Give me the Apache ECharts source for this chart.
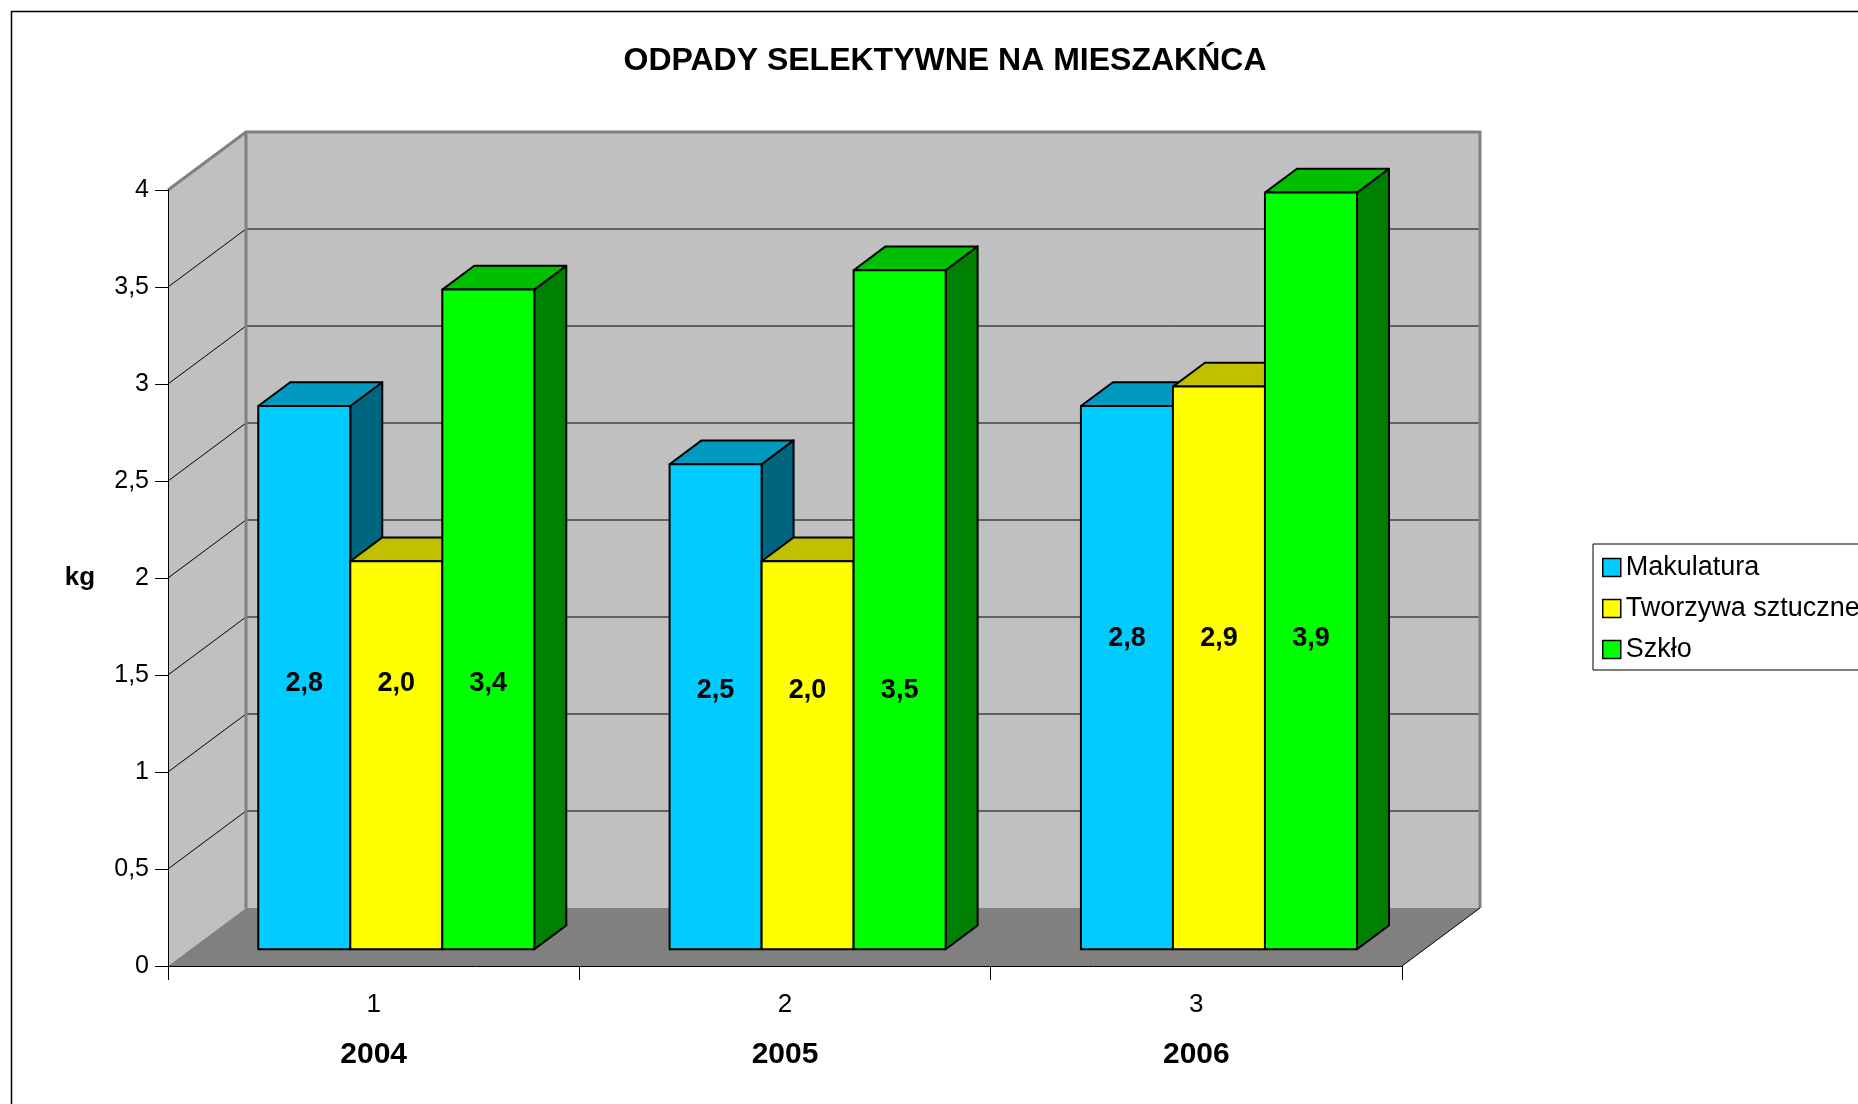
<!DOCTYPE html>
<html>
<head>
<meta charset="utf-8">
<script src="https://cdn.jsdelivr.net/npm/echarts@6/dist/echarts.min.js"></script>
<style>
html, body { margin: 0; padding: 0; background: #fff; }
#my_chart { width: 1858px; height: 1104px; }
</style>
</head>
<body>
<div id="my_chart"></div>
<script>
// kategorie (os X) i lata pod nimi
var categories = ['1', '2', '3'];
var years = ['2004', '2005', '2006'];

// serie
var seriesNames = ['Makulatura', 'Tworzywa sztuczne', 'Szkło'];
var makulatura = [2.8, 2.5, 2.8];
var tworzywa = [2.0, 2.0, 2.9];
var szklo = [3.4, 3.5, 3.9];

// os Y
var yTicks = [0, 0.5, 1, 1.5, 2, 2.5, 3, 3.5, 4];

// kolory: przod, gora, bok
var faceColors = ['#00CCFF', '#FFFF00', '#00FF00'];
var topColors = ['#0099BF', '#C0C000', '#00BF00'];
var sideColors = ['#006680', '#808000', '#008000'];

var FONT = "'Liberation Sans', Arial, sans-serif";
// glebokosc 3D (px)
var DX = 78, DY = 58;

var allSeries = [makulatura, tworzywa, szklo];
// etykiety danych na polowie sredniej grupy
var groupMean = categories.map(function (c, i) {
    return (makulatura[i] + tworzywa[i] + szklo[i]) / 3;
});

function fmt(v) {
    return v.toFixed(1).replace('.', ',');
}

// sciany, podloga i linie siatki
function renderWalls(params, api) {
    var cs = params.coordSys;
    var x0 = cs.x, x1 = cs.x + cs.width;
    var yTop = api.coord([0, yTicks[yTicks.length - 1]])[1];
    var yBot = api.coord([0, yTicks[0]])[1];
    var children = [];
    // sciana boczna
    children.push({
        type: 'polygon',
        shape: { points: [[x0, yTop], [x0 + DX, yTop - DY], [x0 + DX, yBot - DY], [x0, yBot]] },
        style: { fill: '#C0C0C0', stroke: null }
    });
    // sciana tylna
    children.push({
        type: 'rect',
        shape: { x: x0 + DX, y: yTop - DY, width: x1 - x0, height: yBot - yTop },
        style: { fill: '#C0C0C0', stroke: null }
    });
    // podloga
    children.push({
        type: 'polygon',
        shape: { points: [[x0, yBot], [x1, yBot], [x1 + DX, yBot - DY], [x0 + DX, yBot - DY]] },
        style: { fill: '#808080', stroke: null }
    });
    // linie siatki
    for (var i = 1; i < yTicks.length - 1; i++) {
        var y = api.coord([0, yTicks[i]])[1];
        children.push({
            type: 'polyline',
            shape: { points: [[x0, y], [x0 + DX, y - DY], [x1 + DX, y - DY]] },
            style: { stroke: '#000', lineWidth: 1, fill: null }
        });
    }
    // krawedzie scian
    children.push({
        type: 'polyline',
        shape: { points: [[x0, yTop], [x0 + DX, yTop - DY], [x1 + DX, yTop - DY], [x1 + DX, yBot - DY]] },
        style: { stroke: '#808080', lineWidth: 3, fill: null }
    });
    children.push({
        type: 'line',
        shape: { x1: x0 + DX, y1: yTop - DY, x2: x0 + DX, y2: yBot - DY },
        style: { stroke: '#808080', lineWidth: 3 }
    });
    children.push({
        type: 'line',
        shape: { x1: x1, y1: yBot, x2: x1 + DX, y2: yBot - DY },
        style: { stroke: '#000', lineWidth: 1 }
    });
    return { type: 'group', children: children };
}

// slupki 3D
function makeBarRender(s) {
    return function (params, api) {
        var ci = api.value(0), v = api.value(1);
        var base = api.coord([ci, 0]);
        var top = api.coord([ci, v]);
        var band = api.size([1, 0])[0];
        var w = band * 0.2237;
        var ox = DX * 0.29, oy = DY * 0.29;
        var dx = DX * 0.41, dy = DY * 0.41;
        var left = base[0] - 1.5 * w + s * w + ox;
        var right = left + w;
        var yb = base[1] - oy, yt = top[1] - oy;
        var ly = api.coord([ci, groupMean[ci] / 2])[1] - oy;
        var stroke = { stroke: '#000', lineWidth: 2, lineJoin: 'round' };
        return {
            type: 'group',
            children: [
                {
                    type: 'polygon',
                    shape: { points: [[right, yt], [right + dx, yt - dy], [right + dx, yb - dy], [right, yb]] },
                    style: Object.assign({ fill: sideColors[s] }, stroke)
                },
                {
                    type: 'polygon',
                    shape: { points: [[left, yt], [right, yt], [right + dx, yt - dy], [left + dx, yt - dy]] },
                    style: Object.assign({ fill: topColors[s] }, stroke)
                },
                {
                    type: 'rect',
                    shape: { x: left, y: yt, width: w, height: yb - yt },
                    style: Object.assign({ fill: faceColors[s] }, stroke)
                },
                {
                    type: 'text',
                    style: {
                        x: left + w / 2, y: ly, text: fmt(v),
                        align: 'center', verticalAlign: 'middle',
                        fill: '#000', font: 'bold 27px ' + FONT
                    }
                }
            ]
        };
    };
}

var myChart = echarts.init(document.getElementById('my_chart'));

var series = [{
    type: 'custom',
    silent: true,
    clip: false,
    z: 1,
    renderItem: renderWalls,
    data: [[0, 0]]
}];
allSeries.forEach(function (arr, s) {
    series.push({
        name: seriesNames[s],
        type: 'custom',
        clip: false,
        z: 3,
        itemStyle: { color: faceColors[s] },
        renderItem: makeBarRender(s),
        data: arr.map(function (v, i) { return [i, v]; })
    });
});

var option = {
    animation: false,
    backgroundColor: '#fff',
    title: {
        text: 'ODPADY SELEKTYWNE NA MIESZAKŃCA',
        left: 945,
        textAlign: 'center',
        top: 45,
        padding: 0,
        textStyle: { fontFamily: FONT, fontWeight: 'bold', fontSize: 32, color: '#000' }
    },
    legend: {
        orient: 'vertical',
        left: 1593,
        top: 544,
        padding: [10, 10, 7, 9],
        itemGap: 14,
        itemWidth: 18,
        itemHeight: 18,
        icon: 'rect',
        borderColor: '#000',
        borderWidth: 1,
        backgroundColor: '#fff',
        itemStyle: { borderColor: '#000', borderWidth: 1.5 },
        textStyle: { fontFamily: FONT, fontSize: 27, color: '#000' },
        data: seriesNames
    },
    grid: {
        left: 168,
        top: 190,
        width: 1234,
        height: 776,
        containLabel: false,
        outerBoundsMode: 'none'
    },
    xAxis: {
        type: 'category',
        data: categories,
        z: 10,
        axisLine: { show: true, lineStyle: { color: '#000', width: 1 } },
        axisTick: { show: true, length: 14, lineStyle: { color: '#000' } },
        axisLabel: {
            margin: 24,
            formatter: function (val, idx) {
                return '{n|' + val + '}\n{y|' + years[idx] + '}';
            },
            rich: {
                n: { fontFamily: FONT, fontSize: 26, lineHeight: 30, color: '#000' },
                y: { fontFamily: FONT, fontSize: 30, fontWeight: 'bold', lineHeight: 70, color: '#000' }
            }
        },
        splitLine: { show: false }
    },
    yAxis: {
        type: 'value',
        min: 0,
        max: 4,
        interval: 0.5,
        z: 10,
        name: 'kg',
        nameLocation: 'middle',
        nameRotate: 0,
        nameGap: 88,
        nameTextStyle: { fontFamily: FONT, fontSize: 26, fontWeight: 'bold', color: '#000', align: 'center', verticalAlign: 'middle' },
        axisLine: { show: true, lineStyle: { color: '#000', width: 1 } },
        axisTick: { show: true, length: 13, lineStyle: { color: '#000' } },
        axisLabel: {
            margin: 19,
            fontFamily: FONT,
            fontSize: 25,
            color: '#000',
            formatter: function (v) { return String(v).replace('.', ','); }
        },
        splitLine: { show: false }
    },
    graphic: [{
        type: 'rect',
        z: 100,
        silent: true,
        shape: { x: 11.5, y: 11.5, width: 3000, height: 3000 },
        style: { fill: null, stroke: '#000', lineWidth: 1.5 }
    }],
    series: series
};

myChart.setOption(option);
</script>
</body>
</html>
